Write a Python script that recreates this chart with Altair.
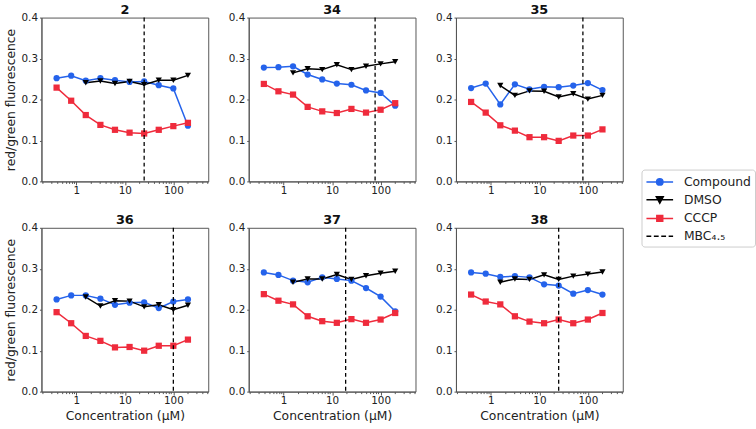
import altair as alt
import pandas as pd

# ---------------- data ----------------
conc = [0.39, 0.78, 1.56, 3.125, 6.25, 12.5, 25, 50, 100, 200]
dmso_conc = [1.56, 3.125, 6.25, 12.5, 25, 50, 100, 200]
panel_names = ["2", "34", "35", "36", "37", "38"]

compound_2 = [0.252, 0.258, 0.246, 0.252, 0.247, 0.243, 0.244, 0.235, 0.227, 0.136]
dmso_2 = [0.241, 0.245, 0.239, 0.244, 0.236, 0.247, 0.247, 0.259]
cccp_2 = [0.229, 0.197, 0.162, 0.138, 0.126, 0.119, 0.117, 0.126, 0.135, 0.143]

compound_34 = [0.278, 0.279, 0.281, 0.261, 0.249, 0.239, 0.236, 0.222, 0.216, 0.185]
dmso_34 = [0.265, 0.275, 0.273, 0.285, 0.273, 0.281, 0.287, 0.292]
cccp_34 = [0.238, 0.220, 0.212, 0.182, 0.171, 0.167, 0.177, 0.168, 0.175, 0.191]

compound_35 = [0.228, 0.239, 0.188, 0.237, 0.225, 0.231, 0.230, 0.234, 0.240, 0.223]
dmso_35 = [0.234, 0.210, 0.221, 0.220, 0.206, 0.214, 0.201, 0.210]
cccp_35 = [0.194, 0.168, 0.137, 0.124, 0.108, 0.108, 0.099, 0.112, 0.112, 0.127]

compound_36 = [0.225, 0.235, 0.235, 0.227, 0.212, 0.217, 0.218, 0.204, 0.220, 0.225]
dmso_36 = [0.231, 0.209, 0.222, 0.221, 0.207, 0.212, 0.200, 0.211]
cccp_36 = [0.194, 0.167, 0.136, 0.124, 0.108, 0.109, 0.100, 0.112, 0.112, 0.127]

compound_37 = [0.291, 0.285, 0.271, 0.267, 0.279, 0.275, 0.271, 0.253, 0.232, 0.196]
dmso_37 = [0.267, 0.275, 0.275, 0.286, 0.274, 0.283, 0.289, 0.294]
cccp_37 = [0.238, 0.222, 0.213, 0.184, 0.172, 0.168, 0.177, 0.168, 0.176, 0.192]

compound_38 = [0.291, 0.288, 0.280, 0.282, 0.279, 0.262, 0.259, 0.239, 0.248, 0.237]
dmso_38 = [0.267, 0.275, 0.274, 0.285, 0.274, 0.282, 0.287, 0.292]
cccp_38 = [0.237, 0.220, 0.213, 0.184, 0.171, 0.167, 0.176, 0.167, 0.176, 0.192]

mbc_values = [25, 77, 79, 100, 19, 25]

series_names = ["Compound", "DMSO", "CCCP"]
series_colors = ["#2563eb", "#000000", "#ef2b3c"]
series_shapes = ["circle", "triangle-down", "square"]
legend_labels = ["Compound", "DMSO", "CCCP", "MBC\u2084.\u2085"]

x_major = [1, 10, 100]
x_tick_values = [m * 10 ** e for e in range(-1, 3) for m in range(1, 10)] + [1000]
y_tick_values = [0.0, 0.1, 0.2, 0.3, 0.4]

all_data = {
    "2": (compound_2, dmso_2, cccp_2),
    "34": (compound_34, dmso_34, cccp_34),
    "35": (compound_35, dmso_35, cccp_35),
    "36": (compound_36, dmso_36, cccp_36),
    "37": (compound_37, dmso_37, cccp_37),
    "38": (compound_38, dmso_38, cccp_38),
}

# ---------------- chart ----------------
W, H = 169, 166
x_scale = alt.Scale(type="log", domain=[0.19, 525], nice=False)
y_scale = alt.Scale(domain=[0, 0.4], nice=False, zero=False)
color_scale = alt.Scale(domain=series_names, range=series_colors)
shape_scale = alt.Scale(domain=series_names, range=series_shapes)

major_test = "datum.value == 1 || datum.value == 10 || datum.value == 100"


def x_axis(show_title):
    kw = dict(
        values=x_tick_values,
        labelExpr="(" + major_test + ") ? format(datum.value, 'd') : ''",
        labelOverlap=False,
        labelFlush=False,
        tickSize={"condition": {"test": major_test, "value": 3.5}, "value": 2},
        labelPadding=1,
        grid=False,
        titlePadding=3,
    )
    kw["title"] = "Concentration (\u03bcM)" if show_title else ""
    return alt.Axis(**kw)


def y_axis(show_title):
    return alt.Axis(
        values=y_tick_values,
        format=".1f",
        tickSize=2,
        labelPadding=2,
        grid=False,
        title="red/green fluorescence" if show_title else "",
        titlePadding=4,
    )


def make_panel(i, name):
    comp, dmso, cccp = all_data[name]
    rows = []
    for c, v in zip(conc, comp):
        rows.append({"conc": c, "value": v, "series": "Compound"})
    for c, v in zip(dmso_conc, dmso):
        rows.append({"conc": c, "value": v, "series": "DMSO"})
    for c, v in zip(conc, cccp):
        rows.append({"conc": c, "value": v, "series": "CCCP"})
    df = pd.DataFrame(rows)
    col, row = i % 3, i // 3
    x = alt.X("conc:Q", scale=x_scale, axis=x_axis(row == 1))
    y = alt.Y("value:Q", scale=y_scale, axis=y_axis(col == 0))
    color = alt.Color("series:N", scale=color_scale, legend=None)
    base = alt.Chart(df)
    lines = base.mark_line(strokeWidth=1.5).encode(x=x, y=y, color=color)
    pts = base.mark_point(filled=True, opacity=1, size=40).encode(
        x=x, y=y, color=color,
        shape=alt.Shape("series:N", scale=shape_scale, legend=None),
    )
    rule = alt.Chart(pd.DataFrame({"conc": [mbc_values[i]]})).mark_rule(
        color="black", strokeDash=[4, 3], strokeWidth=1.3
    ).encode(x=x)
    return alt.layer(lines, pts, rule).properties(
        width=W, height=H,
        title=alt.TitleParams(name, fontSize=13, fontWeight="bold", offset=-4),
    )


panels = [make_panel(i, n) for i, n in enumerate(panel_names)]
grid = alt.vconcat(
    alt.hconcat(*panels[:3], spacing=18),
    alt.hconcat(*panels[3:], spacing=18),
    spacing=16,
)

line_path = "M-1.8,0H1.8"
legend_paths = [
    line_path + "M0.43,0A0.43,0.43 0 1,1 -0.43,0A0.43,0.43 0 1,1 0.43,0Z",
    line_path + "M-0.47,-0.4L0.47,-0.4L0,0.47Z",
    line_path + "M-0.4,-0.4H0.4V0.4H-0.4Z",
    "M-1.8,0H-1.15M-0.8,0H-0.15M0.2,0H0.85M1.2,0H1.8",
]
legend_colors = series_colors + ["#000000"]

leg = alt.Legend(
    title=None, orient="none", legendX=7, legendY=154,
    labelFontSize=12.5, labelFont="DejaVu Sans", labelColor="#222",
    symbolSize=225, symbolStrokeWidth=1.5, symbolOffset=6,
    labelOffset=16, rowPadding=3, padding=4,
    strokeColor="#cccccc", fillColor="white", cornerRadius=3,
)
legend_df = pd.DataFrame({"series": legend_labels})
legend_chart = alt.Chart(legend_df).mark_point(filled=True, opacity=1).encode(
    fill=alt.Fill("series:N", scale=alt.Scale(domain=legend_labels, range=legend_colors), legend=leg),
    stroke=alt.Stroke("series:N", scale=alt.Scale(domain=legend_labels, range=legend_colors), legend=leg),
    shape=alt.Shape("series:N", scale=alt.Scale(domain=legend_labels, range=legend_paths), legend=leg),
).transform_filter("false").properties(
    width=1, height=1, view=alt.ViewBackground(stroke="transparent")
)

chart = alt.hconcat(grid, legend_chart, spacing=10).resolve_scale(
    color="independent", shape="independent", fill="independent", stroke="independent"
).properties(
    padding={"left": 3, "top": 0, "right": 0, "bottom": 0}
).configure_view(
    stroke="#555555", strokeWidth=1
).configure_axis(
    domainColor="#555555", tickColor="#555555", labelColor="#222222",
    labelFont="DejaVu Sans", labelFontSize=10.5,
    titleFont="DejaVu Sans", titleFontSize=12.5, titleFontWeight="normal",
    titleColor="#222222",
).configure_title(font="DejaVu Sans", color="#111111")

chart.save("out.html", embed_options={"renderer": "svg", "actions": False})
